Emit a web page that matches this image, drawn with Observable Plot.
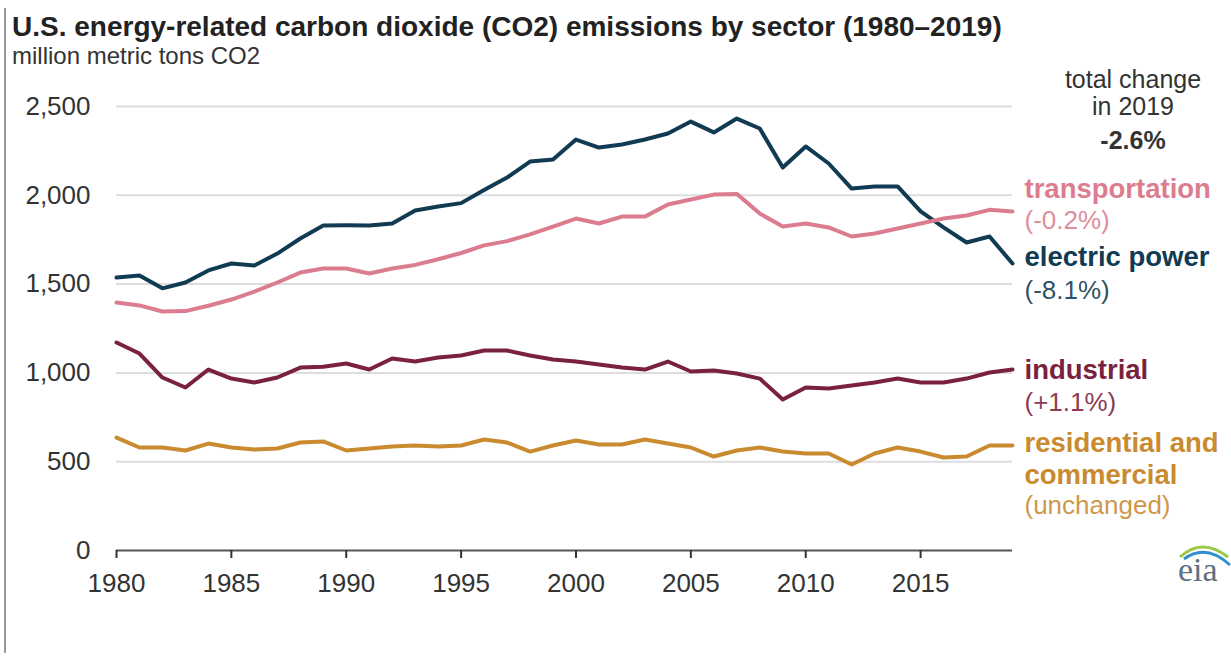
<!DOCTYPE html>
<html><head><meta charset="utf-8">
<script src="https://cdn.jsdelivr.net/npm/d3@7"></script>
<script src="https://cdn.jsdelivr.net/npm/@observablehq/plot@0.6"></script>
<style>
body{margin:0;background:#fff;font-family:"Liberation Sans",Arial,sans-serif;}
#wrap{position:relative;width:1231px;height:659px;overflow:hidden;background:#fff}
#chart{position:absolute;left:0;top:0}
.t{position:absolute;white-space:nowrap;color:#222}
#edge{position:absolute;left:4px;top:8px;width:0;height:645px;border-left:2px solid #9a9a9a}
</style></head><body>
<div id="wrap">
  <div id="chart"></div>
  <div id="edge"></div>
  <div class="t" style="left:12px;top:13px;font-size:28px;font-weight:bold;line-height:28px;color:#222">U.S. energy-related carbon dioxide (CO2) emissions by sector (1980–2019)</div>
  <div class="t" style="left:12px;top:44px;font-size:24px;line-height:24px;color:#333">million metric tons CO2</div>
  <div class="t" style="left:1033px;width:200px;text-align:center;top:66px;font-size:25px;line-height:26px;color:#333">total change</div>
  <div class="t" style="left:1033px;width:200px;text-align:center;top:93px;font-size:25px;line-height:26px;color:#333">in 2019</div>
  <div class="t" style="left:1033px;width:200px;text-align:center;top:127px;font-size:25px;line-height:26px;font-weight:bold;color:#333">-2.6%</div>
  <svg class="t" style="left:1170px;top:535px" width="61" height="52" viewBox="0 0 61 52">
    <path d="M10 22 Q 32 2 58 22" fill="none" stroke="#9cc84a" stroke-width="3"/>
    <path d="M14 24 Q 36 8 60 30" fill="none" stroke="#2f8fce" stroke-width="3"/>
    <text x="8" y="46" font-family="Liberation Serif, DejaVu Serif, serif" font-size="34" fill="#5d6f80">eia</text>
  </svg>
</div>
<script>
const years = d3.range(1980, 2020);
const sectorNames = ["electric power", "transportation", "industrial", "residential and commercial"];
const sectorColors = ["#103b52", "#dc7d8f", "#7b2140", "#c98a30"];
const electricPower = [1537,1548,1476,1509,1577,1616,1605,1672,1757,1830,1831,1830,1841,1914,1937,1956,2030,2100,2190,2201,2314,2269,2286,2314,2348,2415,2354,2432,2376,2156,2275,2179,2038,2050,2050,1910,1819,1734,1768,1616];
const transportation = [1396,1380,1346,1348,1378,1413,1458,1509,1565,1588,1588,1560,1588,1608,1640,1675,1718,1742,1780,1824,1869,1841,1880,1880,1948,1976,2004,2008,1897,1824,1841,1819,1768,1785,1813,1841,1869,1886,1918,1909];
const industrial = [1171,1109,974,918,1019,968,946,974,1030,1035,1053,1019,1081,1064,1087,1098,1126,1126,1098,1075,1064,1047,1030,1019,1064,1008,1013,997,968,850,918,912,929,946,968,946,946,968,1002,1019];
const residentialCommercial = [636,580,580,563,602,580,569,574,608,614,563,574,586,591,586,591,625,608,557,591,619,597,597,625,602,580,529,563,580,557,546,546,484,546,580,557,524,529,591,591];
const yTicks = [0, 500, 1000, 1500, 2000, 2500];
const xTicks = [1980, 1985, 1990, 1995, 2000, 2005, 2010, 2015];
const labelLines = [["electric power"], ["transportation"], ["industrial"], ["residential and", "commercial"]];
const changeLabels = ["(-8.1%)", "(-0.2%)", "(+1.1%)", "(unchanged)"];

const seriesValues = [electricPower, transportation, industrial, residentialCommercial];
const rows = [];
sectorNames.forEach((s, k) => years.forEach((yr, i) => rows.push({year: yr, value: seriesValues[k][i], sector: s})));
const ends = sectorNames.map((s, k) => ({sector: s, year: years[years.length - 1], value: seriesValues[k][years.length - 1]}));

// label vertical offsets (layout only)
const nameDy = [[-6], [-22], [1], [-2, 30]];
const changeDy = [27, 9, 33, 60];

const labelMarks = [];
sectorNames.forEach((s, k) => {
  labelLines[k].forEach((line, j) => {
    labelMarks.push(Plot.text([ends[k]], {x: "year", y: "value", text: () => line, fill: sectorColors[k],
      dx: 12, dy: nameDy[k][j], textAnchor: "start", fontSize: 27.5, fontWeight: "bold"}));
  });
  labelMarks.push(Plot.text([ends[k]], {x: "year", y: "value", text: () => changeLabels[k], fill: sectorColors[k],
    fillOpacity: 0.9, dx: 12, dy: changeDy[k], textAnchor: "start", fontSize: 26}));
});

const chart = Plot.plot({
  width: 1231, height: 620,
  marginLeft: 116, marginRight: 219, marginTop: 106, marginBottom: 70,
  style: {fontFamily: "Liberation Sans, Arial, sans-serif", background: "transparent", overflow: "visible", color: "#333"},
  x: {domain: [1980, 2019]},
  y: {domain: [0, 2500]},
  color: {domain: sectorNames, range: sectorColors},
  marks: [
    Plot.gridY(yTicks.filter(d => d > 0), {stroke: "#dddddd", strokeOpacity: 1, strokeWidth: 2}),
    Plot.axisY({ticks: yTicks, tickFormat: d3.format(","), tickSize: 0, tickPadding: 26, fontSize: 26, label: null}),
    Plot.ruleY([0], {stroke: "#555", strokeWidth: 2}),
    Plot.axisX({ticks: xTicks, tickFormat: d => String(d), tickSize: 8, tickPadding: 15, fontSize: 26, strokeWidth: 2, label: null}),
    Plot.line(rows, {x: "year", y: "value", z: "sector", stroke: "sector", strokeWidth: 4}),
    ...labelMarks
  ]
});
document.getElementById("chart").appendChild(chart);
</script>
</body></html>
